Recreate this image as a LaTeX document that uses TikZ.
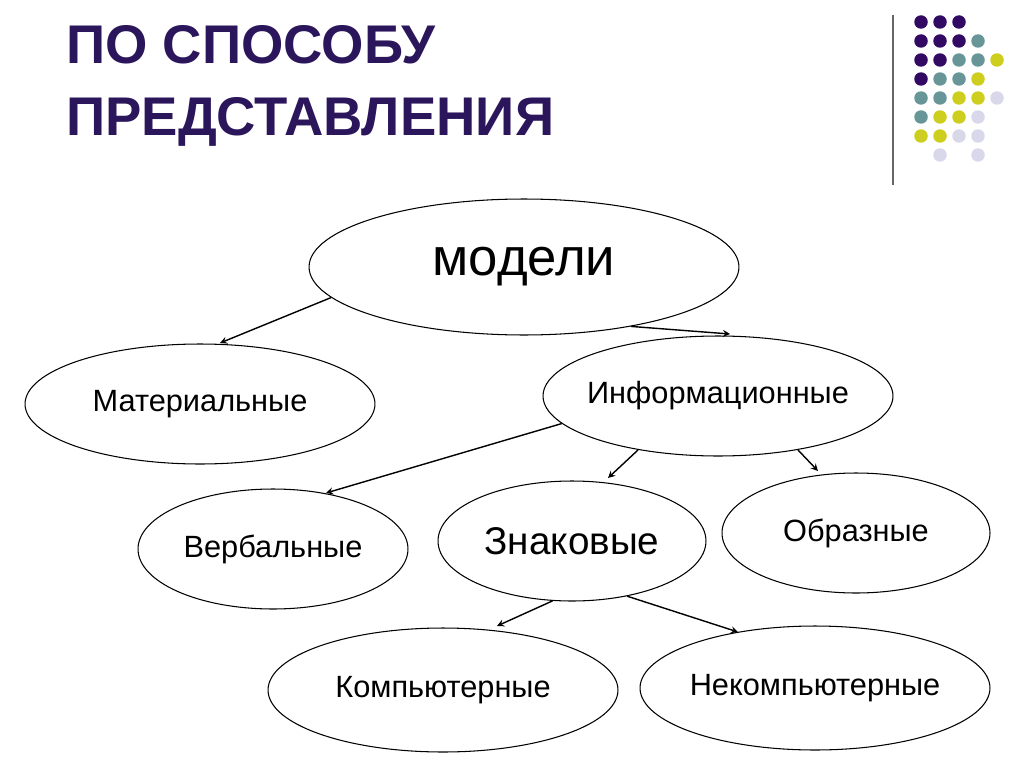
\documentclass[tikz,border=0pt]{standalone}
\usepackage{fontspec}
\setmainfont{Liberation Sans}
\usetikzlibrary{shapes.geometric,arrows,positioning}
\definecolor{titlepurple}{RGB}{43,22,92}
\definecolor{dotpurple}{RGB}{50,10,100}
\definecolor{dotteal}{RGB}{104,150,152}
\definecolor{dotyellow}{RGB}{206,206,30}
\definecolor{dotlav}{RGB}{216,216,234}

\begin{document}
\begin{tikzpicture}[
        x=0.02cm, y=-0.02cm,
        model/.style={
            ellipse,
            draw=black,
            line width=0.6pt,
            fill=white,
            inner sep=-12pt,
            font=\fontsize{17.5}{20}\selectfont,
            align=center
        },
        arrow/.style={
            ->,
            >=stealth,
            line width=0.8pt
        },
        dot/.style={
            circle,
            inner sep=0pt,
            minimum size=0.27cm
        }
    ]
    \useasboundingbox (0,0) rectangle (1024,767);

    % Title
    \node[anchor=west, text=titlepurple, font=\fontsize{31}{41}\selectfont\bfseries, align=left] (title) at (60,86) {ПО СПОСОБУ\\ПРЕДСТАВЛЕНИЯ};

    % Decoration (top right)
    \draw[gray!80!black, line width=0.8pt] (893,15) -- (893,185);
    \foreach \row/\cols in {0/{P,P,P,N,N}, 1/{P,P,P,T,N}, 2/{P,P,T,T,Y}, 3/{P,T,T,Y,N},
                            4/{T,T,Y,Y,L}, 5/{T,Y,Y,L,N}, 6/{Y,Y,L,L,N}, 7/{N,L,N,L,N}} {
        \foreach \c [count=\i from 0] in \cols {
            \if\c P \node[dot, fill=dotpurple] at (921+19*\i,22+19*\row) {};\fi
            \if\c T \node[dot, fill=dotteal] at (921+19*\i,22+19*\row) {};\fi
            \if\c Y \node[dot, fill=dotyellow] at (921+19*\i,22+19*\row) {};\fi
            \if\c L \node[dot, fill=dotlav] at (921+19*\i,22+19*\row) {};\fi
        }
    }

    % Models
    \node[model, minimum width=8.6cm, minimum height=2.72cm, font=\fontsize{30}{32}\selectfont] (mod) at (524,267) {модели};
    \node[model, minimum width=7cm, minimum height=2.4cm] (mat) at (200,404) {Материальные};
    \node[model, minimum width=7cm, minimum height=2.4cm] (inf) at (718,396) {Информационные};
    \node[model, minimum width=5.4cm, minimum height=2.4cm] (verb) at (273,549) {Вербальные};
    \node[model, minimum width=5.36cm, minimum height=2.4cm, font=\fontsize{22}{24}\selectfont] (zn) at (572,541) {Знаковые};
    \node[model, minimum width=5.36cm, minimum height=2.4cm] (obr) at (856,533) {Образные};
    \node[model, minimum width=7cm, minimum height=2.48cm] (comp) at (443,690) {Компьютерные};
    \node[model, minimum width=7cm, minimum height=2.48cm] (ncomp) at (815,688) {Некомпьютерные};

    % Free arrow ends
    \coordinate (matend) at (220,343);
    \coordinate (infend) at (730,334);
    \coordinate (verbend) at (326,493);
    \coordinate (znend) at (608,478);
    \coordinate (obrend) at (818,471);
    \coordinate (compend) at (497,626);
    \coordinate (ncompend) at (738,632);

    % Arrows
    \draw[arrow] (mod.189) -- (matend);
    \draw[arrow] (mod.331) -- (infend);
    \draw[arrow] (inf.190) -- (verbend);
    \draw[arrow] (inf.214) -- (znend);
    \draw[arrow] (inf.326) -- (obrend);
    \draw[arrow] (zn.252) -- (compend);
    \draw[arrow] (zn.315) -- (ncompend);
\end{tikzpicture}
\end{document}
